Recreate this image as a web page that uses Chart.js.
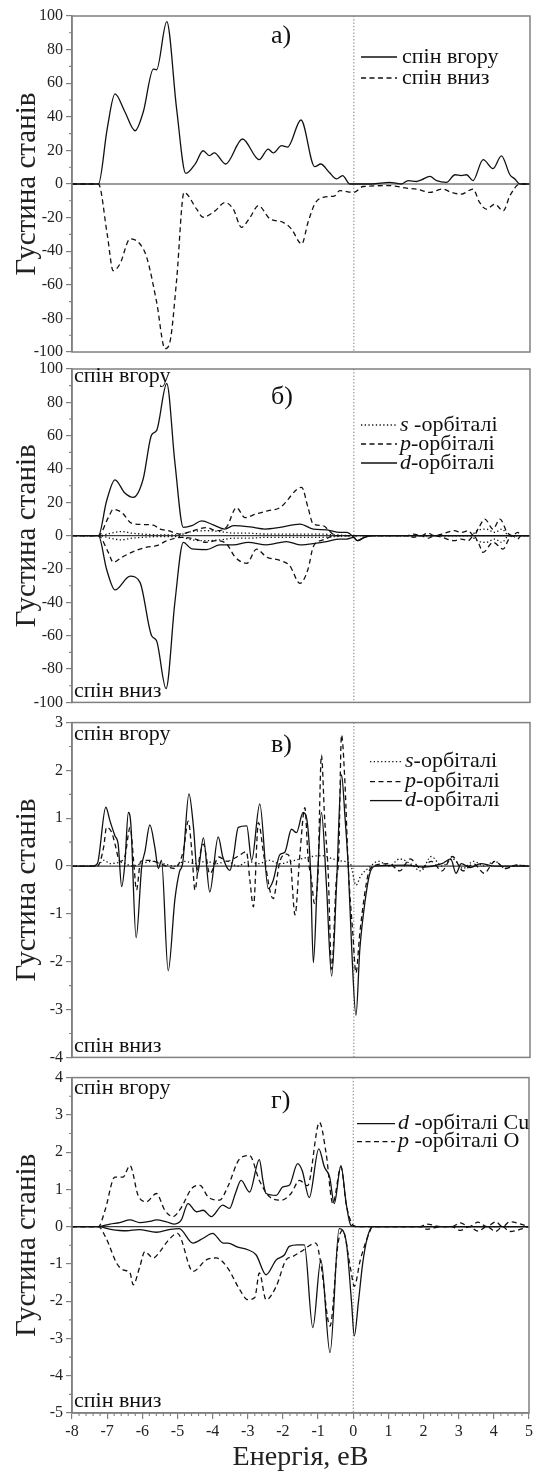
<!DOCTYPE html>
<html>
<head>
<meta charset="utf-8">
<script src="https://cdn.jsdelivr.net/npm/chart.js@4.4.1/dist/chart.umd.min.js"></script>
<style>
body { margin: 0; background: #fff; }
#wrap { position: relative; width: 536px; height: 1472px; overflow: hidden; background: #fff; }
canvas { position: absolute; left: 0; }
</style>
</head>
<body>
<div id="wrap">
  <canvas id="pa" width="536" height="370" style="top:0px"></canvas>
  <canvas id="pb" width="536" height="360" style="top:355px"></canvas>
  <canvas id="pc" width="536" height="360" style="top:710px"></canvas>
  <canvas id="pd" width="536" height="407" style="top:1065px"></canvas>
</div>
<script>
// ---- a) total DOS, spin up / spin down
const aUpE = [-8, -7.25, -7.0, -6.78, -6.5, -6.21, -5.98, -5.69, -5.6, -5.31, -5.03, -4.77, -4.5, -4.28, -4.1, -3.96, -3.64, -3.16, -2.69, -2.43, -2.29, -2.05, -1.88, -1.5, -1.11, -0.94, -0.7, -0.49, -0.32, -0.11, 0.5, 1.02, 1.2, 1.35, 1.54, 1.78, 1.92, 2.16, 2.35, 2.63, 2.87, 3.05, 3.2, 3.38, 3.67, 3.95, 4.19, 4.43, 4.57, 4.71, 5];
const aUpV = [0, 0, 33, 53.6, 43, 31.7, 42.7, 68.4, 68, 96.6, 44.6, 6.3, 12, 19.8, 16.9, 18.5, 11.9, 26.8, 14.5, 20.8, 18.5, 22.8, 22, 38.1, 10.3, 11.9, 7, 3, 5, 0, 0, 1, 0.5, 0, 2, 1.5, 2.5, 4.5, 2, 1, 5.5, 5, 5.5, 2, 14.5, 9.2, 16.8, 5.5, 3, 0, 0];
const aDnE = [-8, -7.25, -7.0, -6.83, -6.64, -6.35, -6.07, -5.88, -5.6, -5.36, -5.22, -5.03, -4.82, -4.46, -4.28, -3.94, -3.66, -3.42, -3.19, -2.95, -2.71, -2.38, -2.01, -1.77, -1.48, -1.3, -1.11, -0.87, -0.54, -0.4, 0.0, 0.26, 1.02, 1.5, 1.78, 2.16, 2.53, 2.77, 3.05, 3.38, 3.57, 3.76, 4.0, 4.24, 4.43, 4.71, 5];
const aDnV = [0, 0, -30, -51.6, -47.6, -32.7, -35.7, -43.6, -70, -98, -94, -57, -5, -15, -19.8, -16, -11, -15, -25.8, -20, -12.9, -20.8, -22.8, -26.8, -35.7, -22.8, -11.9, -7.9, -7, -4, -5, -1.5, -1, -2.5, -3, -5, -3, -5, -6, -3, -11, -15, -12, -16, -7, 0, 0];

// ---- б) s, p, d orbitals (up and down)
const bSUpE = [-8, -7.25, -6.9, -6.6, -6.3, -6.0, -5.5, -5.0, -4.6, -4.2, -3.8, -3.4, -3.0, -2.5, -2.0, -1.5, -1.0, -0.5, 0, 3.3, 3.5, 3.75, 4.0, 4.2, 4.4, 5];
const bSUpV = [0, 0, 1.5, 2.5, 1.5, 1, 0.5, 0.5, 2.5, 3, 2.5, 1.5, 1.5, 1, 1, 1, 1, 0.5, 0, 0, 3, 4, 2, 4, 0, 0];
const bSDnV = [0, 0, -1.5, -2.5, -1.5, -1, -0.5, -0.5, -2.5, -3, -2.5, -1.5, -1.5, -1, -1, -1, -1, -0.5, 0, 0, -3, -4, -2, -4, 0, 0];
const bPUpE = [-8, -7.25, -6.97, -6.83, -6.59, -6.31, -5.98, -5.69, -5.5, -5.27, -4.94, -4.56, -4.18, -3.9, -3.61, -3.33, -3.09, -2.81, -2.48, -2.1, -1.48, -1.3, -1.15, -0.87, -0.68, -0.49, 1.5, 1.7, 1.9, 2.1, 2.3, 2.5, 2.85, 3.05, 3.25, 3.4, 3.55, 3.72, 3.95, 4.15, 4.35, 4.5, 4.65, 4.75, 5];
const bPUpV = [0, 0, 10.8, 15.8, 14, 7.5, 6.7, 6.3, 4, 3, 1, 3, 4.9, 3, 5.3, 16.8, 10.8, 12.8, 14.8, 16.8, 29, 16.8, 6.9, 6, 2.5, 0, 0, 1, 0, 1.5, 0, 1, 3, 2, 3, 0, 5, 10, 4, 10, 2, 0, 2, 0, 0];
const bPDnE = [-8, -7.25, -6.97, -6.83, -6.59, -6.2, -5.9, -5.6, -5.3, -4.9, -4.5, -4.2, -3.9, -3.61, -3.37, -3.04, -2.76, -2.48, -2.1, -1.82, -1.53, -1.3, -1.15, -0.87, -0.5, 1.5, 1.7, 1.9, 2.1, 2.3, 2.5, 2.85, 3.05, 3.25, 3.4, 3.55, 3.67, 3.95, 4.24, 4.4, 4.5, 4.65, 4.75, 5];
const bPDnV = [0, 0, -10, -16, -13, -9, -7, -6, -3, -1, -2, -4, -3, -5, -12.8, -16.6, -8, -12.8, -14.8, -18, -28.6, -20, -6.5, -2.5, 0, 0, -1, 0, -1.5, 0, -1, -3, -2, -3, 0, -5, -10, -4, -8, -2, 0, -2, 0, 0];
const bDUpE = [-8, -7.25, -7.02, -6.78, -6.5, -6.26, -5.98, -5.74, -5.6, -5.31, -5.08, -4.84, -4.6, -4.32, -3.99, -3.66, -3.42, -2.95, -2.52, -2.1, -1.53, -1.15, -0.77, -0.4, -0.2, 0.0, 0.1, 0.3, 0.5, 5];
const bDUpV = [0, 0, 20.7, 33.5, 25.6, 23, 34, 60.5, 63, 91.3, 44, 5, 6, 8.9, 6.5, 4, 6, 5.3, 4, 5, 7, 4, 3.5, 2, 2, -1, -3, -1, 0, 0];
const bDDnE = [-8, -7.25, -7.02, -6.78, -6.35, -6.07, -5.74, -5.6, -5.33, -5.08, -4.84, -4.6, -4.18, -3.8, -3.42, -3.0, -2.48, -1.91, -1.53, -1.06, -0.77, -0.4, -0.2, 0.0, 0.1, 0.3, 0.5, 5];
const bDDnV = [0, 0, -20, -32.5, -24.3, -28, -60, -63, -91.7, -40, -4, -7.9, -8.3, -5.5, -5.5, -4, -5.5, -3.5, -5.5, -4.5, -3.5, -2, -2, -1, -3, -1, 0, 0];

// ---- в) Cu orbitals
const cSE = [-8, -7.3, -7.1, -6.9, -6.6, -6.3, -6.0, -5.7, -5.4, -5.1, -4.8, -4.5, -4.2, -3.9, -3.6, -3.3, -3.0, -2.7, -2.4, -2.1, -1.8, -1.5, -1.2, -0.9, -0.6, -0.3, -0.1, 0.06, 0.2, 0.4, 0.7, 1.0, 1.3, 1.6, 1.9, 2.2, 2.5, 2.8, 3.1, 3.4, 3.7, 4.0, 4.3, 4.6, 5];
const cSV = [0, 0, 0.12, 0.05, 0.08, 0.0, 0.06, 0.1, 0.05, 0.0, 0.1, 0.05, 0.1, 0.05, 0.1, 0.0, 0.1, 0.05, 0.12, 0.05, 0.1, 0.15, 0.2, 0.22, 0.15, 0.1, 0.05, -0.4, -0.2, -0.05, 0.1, 0.0, 0.15, 0.05, -0.1, 0.2, 0.0, 0.15, -0.05, 0.1, 0.0, 0.1, -0.05, 0.02, 0];
const cPE = [-8, -7.28, -7.1, -7.02, -6.87, -6.78, -6.64, -6.5, -6.35, -6.25, -6.17, -6.05, -5.79, -5.5, -5.1, -4.84, -4.7, -4.6, -4.51, -4.4, -4.27, -4.09, -3.83, -3.6, -3.3, -3.05, -2.95, -2.85, -2.71, -2.55, -2.29, -2.1, -1.9, -1.8, -1.67, -1.53, -1.39, -1.3, -1.2, -1.12, -1.02, -0.92, -0.83, -0.73, -0.63, -0.5, -0.43, -0.35, -0.25, -0.16, -0.03, 0.06, 0.17, 0.31, 0.41, 0.55, 1.0, 1.3, 1.6, 1.9, 2.2, 2.5, 2.8, 3.1, 3.4, 3.7, 4.0, 4.3, 4.6, 5];
const cPV = [0, 0, 0.4, 0.81, 0.7, 0.46, 0.1, 0.2, 0.81, 0.1, -0.5, 0.1, 0.12, 0.05, -0.05, 0.32, 0.94, 0.32, -0.5, 0.1, 0.46, -0.16, 0.19, 0.1, 0.2, 0.3, -0.3, -0.85, 0.91, 0.2, -0.68, 0.1, 0.25, 0.1, -1.02, 0.26, 1.22, 0.19, -0.3, -0.78, -0.2, 2.32, 1.0, -0.1, -2.16, -0.3, 0.2, 2.74, 1.7, 0, -1.4, -2.23, -1.4, -0.57, -0.16, 0, 0.05, -0.1, 0.15, -0.05, 0.1, -0.1, 0.2, -0.1, 0.05, -0.15, 0.1, -0.05, 0.02, 0];
const cDE = [-8, -7.4, -7.28, -7.04, -6.92, -6.78, -6.69, -6.59, -6.5, -6.4, -6.33, -6.18, -6.02, -5.93, -5.79, -5.65, -5.55, -5.46, -5.27, -5.08, -4.95, -4.86, -4.68, -4.55, -4.44, -4.27, -4.09, -3.85, -3.72, -3.52, -3.42, -3.28, -3.04, -2.9, -2.67, -2.43, -2.29, -2.1, -1.96, -1.77, -1.63, -1.44, -1.34, -1.23, -1.15, -1.04, -0.92, -0.78, -0.63, -0.49, -0.35, -0.25, -0.16, -0.06, 0.06, 0.17, 0.31, 0.45, 0.6, 1.5, 2.0, 2.5, 2.75, 2.9, 3.05, 3.3, 3.6, 4.0, 5];
const cDV = [0, 0, 0.05, 1.23, 0.94, 0.63, 0.46, -0.43, 0.05, 1.12, 0.88, -1.5, 0, 0.3, 0.86, 0.4, -0.05, 0.12, -2.19, -0.7, -0.12, 0.05, 1.51, 0.8, -0.16, 0.59, -0.54, 0.61, 0.19, -0.09, 0.19, 0.81, 0.84, 0.12, 1.3, -0.47, -0.3, 0.24, 0.29, 0.77, 0.7, 1.12, 1.0, -0.09, -2.02, -0.37, 1.12, -0.37, -2.3, -0.37, 1.91, 1.01, 0, -1.74, -3.12, -1.74, -0.78, -0.16, 0, 0.02, -0.02, 0.05, 0.15, -0.15, 0.05, -0.03, 0.05, 0, 0];

// ---- г) d Cu and p O, up and down
const dCuUpE = [-8, -7.25, -6.92, -6.64, -6.35, -6.07, -5.8, -5.6, -5.31, -5.08, -4.89, -4.7, -4.46, -4.27, -4.04, -3.71, -3.52, -3.35, -3.19, -2.95, -2.67, -2.57, -2.48, -2.19, -2.0, -1.82, -1.58, -1.45, -1.25, -0.98, -0.82, -0.67, -0.54, -0.35, -0.2, -0.07, 0.1, 5];
const dCuUpV = [0, 0, 0.07, 0.11, 0.18, 0.11, 0.14, 0.18, 0.13, 0.07, 0.18, 0.62, 0.4, 0.44, 0.27, 0.58, 0.49, 0.9, 1.24, 0.93, 1.8, 1.24, 0.89, 0.84, 1.07, 1.11, 1.69, 1.5, 0.78, 2.09, 1.6, 1.33, 0.62, 1.64, 0.62, 0.04, 0, 0];
const dCuDnE = [-8, -7.25, -6.9, -6.45, -6.1, -5.6, -5.2, -4.95, -4.56, -4.27, -4.0, -3.7, -3.57, -3.28, -3.0, -2.76, -2.48, -2.19, -1.96, -1.82, -1.58, -1.39, -1.15, -0.92, -0.66, -0.4, -0.2, -0.05, 0.03, 0.15, 0.27, 0.4, 0.55, 5];
const dCuDnV = [0, 0, -0.07, -0.11, -0.08, -0.15, -0.07, -0.05, -0.44, -0.31, -0.18, -0.44, -0.44, -0.55, -0.62, -0.76, -1.29, -0.89, -0.76, -0.53, -0.49, -0.49, -2.71, -0.89, -3.38, -0.05, -0.4, -2.0, -2.93, -2.0, -0.98, -0.3, 0, 0];
const dOUpE = [-8, -7.25, -7.06, -6.78, -6.55, -6.35, -6.12, -5.88, -5.6, -5.36, -5.13, -4.9, -4.6, -4.36, -4.13, -3.8, -3.57, -3.23, -2.95, -2.67, -2.38, -2.05, -1.77, -1.53, -1.3, -0.96, -0.77, -0.58, -0.35, -0.2, -0.05, 0.1, 1.5, 1.9, 2.1, 2.5, 2.8, 3.05, 3.3, 3.55, 3.8, 4.05, 4.25, 4.45, 5];
const dOUpV = [0, 0, 0.44, 1.33, 1.33, 1.64, 0.84, 0.67, 0.89, 0.44, 0.27, 0.5, 1.02, 1.11, 0.8, 0.71, 1.07, 1.82, 1.91, 1.24, 0.8, 0.71, 0.89, 1.24, 1.1, 2.8, 1.96, 0.62, 1.6, 0.6, 0.1, 0, 0, 0, 0.07, 0, 0, 0.1, 0, 0.12, 0, 0.13, 0, 0.13, 0];
const dODnE = [-8, -7.25, -7.03, -6.73, -6.55, -6.35, -6.26, -6.07, -5.93, -5.69, -5.5, -5.29, -5.0, -4.56, -4.18, -3.9, -3.57, -3.23, -3.0, -2.8, -2.67, -2.48, -2.19, -1.91, -1.72, -1.49, -1.06, -0.92, -0.66, -0.43, -0.3, -0.07, 0.03, 0.2, 0.45, 0.55, 1.5, 1.9, 2.1, 2.5, 2.8, 3.05, 3.3, 3.55, 3.8, 4.05, 4.25, 4.45, 5];
const dODnV = [0, 0, -0.31, -0.98, -1.16, -1.24, -1.56, -1.07, -0.67, -0.84, -0.67, -0.4, -0.18, -1.2, -0.89, -0.84, -1.11, -1.69, -1.96, -1.9, -1.24, -1.96, -1.6, -0.89, -0.8, -0.67, -0.44, -1.0, -2.67, -0.44, -0.1, -1.16, -1.6, -0.9, -0.18, 0, 0, 0, -0.07, 0, 0, -0.1, 0, -0.12, 0, -0.13, 0, -0.13, 0];

const serif = '"Liberation Serif", "Times New Roman", serif';
const ink = '#111';
const frameCol = '#808080';
const SOLID = [], DASH = [5, 3.5], DOT = [1.3, 2.4];

function pts(xs, ys) {
    return xs.map((x, i) => ({x: x, y: ys[i]}));
}

function line(xs, ys, dash) {
    return {
        data: pts(xs, ys),
        borderColor: ink,
        borderWidth: 1.3,
        borderDash: dash,
        pointRadius: 0,
        cubicInterpolationMode: 'monotone',
        fill: false
    };
}

const panels = [
    {id: 'pa', padTop: 16, padBottom: 18, min: -100, max: 100, step: 20, minor: 10, showX: false,
     tag: 'а)', tagY: 20, spin: false,
     legend: {x1: 361, x2: 397, tx: 402, rows: [41, 62], items: [
         {dash: SOLID, pre: '', text: 'спін вгору'},
         {dash: DASH, pre: '', text: 'спін вниз'}]},
     sets: [line(aUpE, aUpV, SOLID), line(aDnE, aDnV, DASH)]},
    {id: 'pb', padTop: 14, padBottom: 10, min: -100, max: 100, step: 20, minor: 10, showX: false,
     tag: 'б)', tagY: 28, spin: true, spinUp: 13, spinDn: 5,
     legend: {x1: 361, x2: 397, tx: 400, rows: [56, 75, 94], items: [
         {dash: DOT, pre: 's', text: ' -орбіталі'},
         {dash: DASH, pre: 'p', text: '-орбіталі'},
         {dash: SOLID, pre: 'd', text: '-орбіталі'}]},
     sets: [line(bSUpE, bSUpV, DOT), line(bSUpE, bSDnV, DOT),
            line(bPUpE, bPUpV, DASH), line(bPDnE, bPDnV, DASH),
            line(bDUpE, bDUpV, SOLID), line(bDDnE, bDDnV, SOLID)]},
    {id: 'pc', padTop: 12, padBottom: 10, min: -4, max: 3, step: 1, minor: 0.5, showX: false,
     tag: 'в)', tagY: 23, spin: true, spinUp: 17, spinDn: 5,
     legend: {x1: 370, x2: 402, tx: 405, rows: [39, 59, 78], items: [
         {dash: DOT, pre: 's', text: '-орбіталі'},
         {dash: DASH, pre: 'p', text: '-орбіталі'},
         {dash: SOLID, pre: 'd', text: '-орбіталі'}]},
     sets: [line(cSE, cSV, DOT), line(cPE, cPV, DASH), line(cDE, cDV, SOLID)]},
    {id: 'pd', padTop: 10, padBottom: 0, min: -5, max: 4, step: 1, minor: 0.5, showX: true,
     tag: 'г)', tagY: 24, spin: true, spinUp: 16, spinDn: 6,
     legend: {x1: 357, x2: 395, tx: 398, rows: [46, 64], items: [
         {dash: SOLID, pre: 'd', text: ' -орбіталі Cu'},
         {dash: DASH, pre: 'p', text: ' -орбіталі O'}]},
     sets: [line(dCuUpE, dCuUpV, SOLID), line(dCuDnE, dCuDnV, SOLID),
            line(dOUpE, dOUpV, DASH), line(dODnE, dODnV, DASH)]}
];

function decor(p) {
    return {
        id: 'decor',
        beforeDatasetsDraw(chart) {
            const ctx = chart.ctx, a = chart.chartArea;
            const x = chart.scales.x, y = chart.scales.y;
            ctx.save();
            const y0 = y.getPixelForValue(0);
            ctx.strokeStyle = '#3a3a3a';
            ctx.lineWidth = 1.2;
            ctx.beginPath(); ctx.moveTo(a.left, y0); ctx.lineTo(a.right, y0); ctx.stroke();
            const x0 = x.getPixelForValue(0);
            ctx.strokeStyle = '#777';
            ctx.lineWidth = 1;
            ctx.setLineDash([1.3, 2]);
            ctx.beginPath(); ctx.moveTo(x0, a.top); ctx.lineTo(x0, a.bottom); ctx.stroke();
            ctx.restore();
        },
        afterDraw(chart) {
            const ctx = chart.ctx, a = chart.chartArea;
            const x = chart.scales.x, y = chart.scales.y;
            ctx.save();
            // frame
            ctx.strokeStyle = frameCol;
            ctx.lineWidth = 1.5;
            ctx.strokeRect(a.left, a.top, a.right - a.left, a.bottom - a.top);
            // minor ticks
            ctx.lineWidth = 1.1;
            ctx.beginPath();
            for (let v = p.min; v <= p.max + 1e-9; v += p.minor) {
                const r = Math.round(v * 100) / 100;
                if (Math.abs(r / p.step - Math.round(r / p.step)) < 1e-6) continue;
                const py = y.getPixelForValue(r);
                ctx.moveTo(a.left - 3, py); ctx.lineTo(a.left, py);
            }
            if (p.showX) {
                for (let v = -8; v <= 5 + 1e-9; v += 0.2) {
                    const r = Math.round(v * 10) / 10;
                    if (Math.abs(r - Math.round(r)) < 1e-6) continue;
                    const px = x.getPixelForValue(r);
                    ctx.moveTo(px, a.bottom); ctx.lineTo(px, a.bottom + 3);
                }
            }
            ctx.stroke();

            ctx.fillStyle = ink;
            ctx.textBaseline = 'middle';
            ctx.textAlign = 'left';
            // panel tag
            ctx.font = '26px ' + serif;
            ctx.fillText(p.tag, 271, a.top + p.tagY);
            // spin labels
            if (p.spin) {
                ctx.textBaseline = 'alphabetic';
                ctx.font = '22px ' + serif;
                ctx.fillText('спін вгору', 74, a.top + p.spinUp);
                ctx.fillText('спін вниз', 74, a.bottom - p.spinDn);
            }
            // legend
            const L = p.legend;
            ctx.textBaseline = 'middle';
            L.items.forEach((it, i) => {
                const ry = a.top + L.rows[i];
                ctx.strokeStyle = ink;
                ctx.lineWidth = 1.3;
                ctx.setLineDash(it.dash);
                ctx.beginPath(); ctx.moveTo(L.x1, ry); ctx.lineTo(L.x2, ry); ctx.stroke();
                ctx.setLineDash([]);
                let tx = L.tx;
                if (it.pre) {
                    ctx.font = 'italic 22px ' + serif;
                    ctx.fillText(it.pre, tx, ry);
                    tx += ctx.measureText(it.pre).width;
                }
                ctx.font = '22px ' + serif;
                ctx.fillText(it.text, tx, ry);
            });
            ctx.restore();
        }
    };
}

panels.forEach(p => {
    new Chart(document.getElementById(p.id), {
        type: 'line',
        data: {datasets: p.sets},
        options: {
            responsive: false,
            animation: false,
            devicePixelRatio: 1,
            layout: {padding: {top: p.padTop, bottom: p.padBottom, left: 0, right: 6}},
            plugins: {legend: {display: false}, tooltip: {enabled: false}},
            scales: {
                x: {
                    type: 'linear', min: -8, max: 5, display: p.showX,
                    ticks: {stepSize: 1, autoSkip: false, maxRotation: 0, padding: 3,
                            font: {family: serif, size: 16}, color: '#222'},
                    grid: {drawOnChartArea: false, tickLength: 6, color: frameCol, lineWidth: 1.2},
                    border: {color: frameCol, width: 1.5},
                    title: {display: p.showX, text: 'Енергія, еВ', color: '#222', padding: 0,
                            font: {family: serif, size: 28, lineHeight: 1}},
                    afterFit: s => { s.height = p.showX ? 59 : 0; }
                },
                y: {
                    type: 'linear', min: p.min, max: p.max,
                    ticks: {stepSize: p.step, autoSkip: false, padding: 3,
                            font: {family: serif, size: 16}, color: '#222'},
                    grid: {drawOnChartArea: false, tickLength: 6, color: frameCol, lineWidth: 1.2},
                    border: {color: frameCol, width: 1.5},
                    title: {display: true, text: 'Густина станів', color: '#222',
                            padding: {top: 10, bottom: 0}, font: {family: serif, size: 29}},
                    afterFit: s => { s.width = 72; }
                }
            }
        },
        plugins: [decor(p)]
    });
});
</script>
</body>
</html>
